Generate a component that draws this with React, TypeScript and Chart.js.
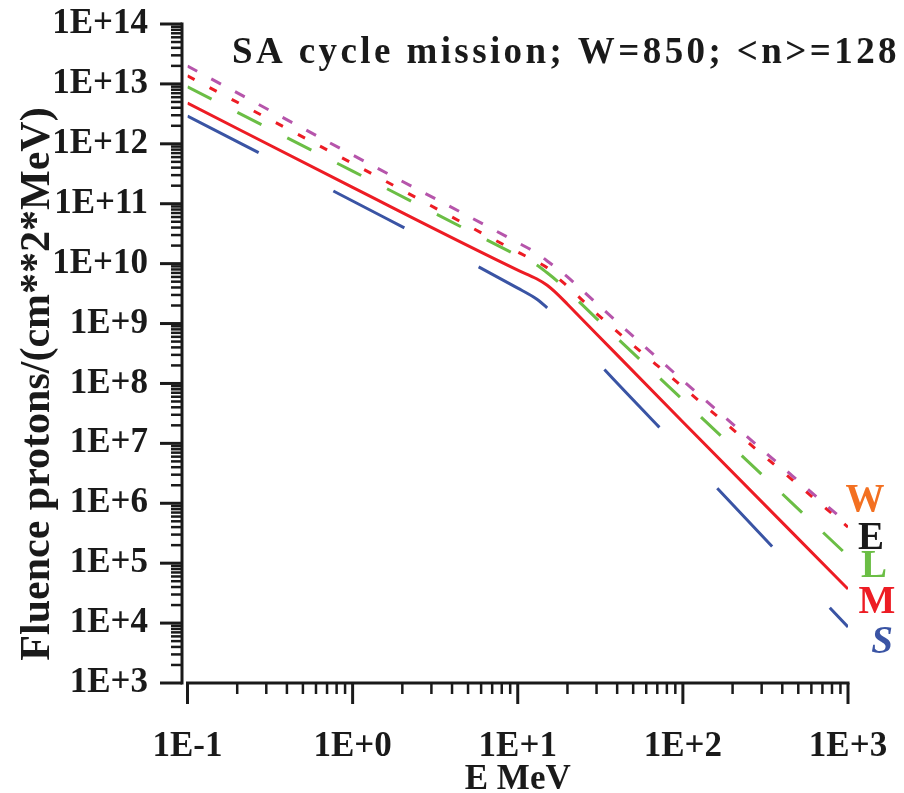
import { useEffect, useRef } from "react";
import { Chart, registerables } from "chart.js";

Chart.register(...registerables);

// ---- data ----
const energies = [0.1, 1, 10, 13, 15, 17.5, 20, 30, 100, 1000];
const fluenceW = [1.99e13, 6.5e11, 2.24e10, 1.5e10, 1.12e10, 8.1e9, 6.0e9, 2.17e9, 1.12e8, 4.5e5];
const fluenceE = [1.36e13, 4.7e11, 1.56e10, 1.08e10, 8.6e9, 5.75e9, 4.2e9, 1.47e9, 8.7e7, 4.0e5];
const fluenceL = [8.9e12, 3.5e11, 1.36e10, 9.5e9, 7.1e9, 5.0e9, 3.56e9, 1.21e9, 5.3e7, 1.32e5];
const fluenceM = [4.8e12, 1.87e11, 7.8e9, 5.6e9, 4.4e9, 3.05e9, 2.1e9, 6.7e8, 2.27e7, 3.7e4];
const fluenceS = [2.9e12, 1.11e11, 3.9e9, 2.57e9, 1.85e9, 1.24e9, 8.4e8, 2.37e8, 7.2e6, 8.6e3];

const seriesNames = ["W", "E", "L", "M", "S"];
const xTickLabels = ["1E-1", "1E+0", "1E+1", "1E+2", "1E+3"];
const yTickLabels = ["1E+3", "1E+4", "1E+5", "1E+6", "1E+7", "1E+8", "1E+9", "1E+10", "1E+11", "1E+12", "1E+13", "1E+14"];
const chartTitle = "SA cycle mission; W=850; <n>=128";
const xTitle = "E MeV";
const yTitle = "Fluence protons/(cm**2*MeV)";

const FONT = "'Liberation Serif', 'Times New Roman', serif";

const lineColors = ["#B655AB", "#ED1C24", "#6BBE45", "#ED1C24", "#3A54A4"];
const lineDashes = [[11, 16], [8, 17], [27, 29], [], [80, 84]];
const labelColors = ["#F37021", "#1A1A1A", "#6BBE45", "#ED1C24", "#3A54A4"];
const labelPos = [
  [865, 511],
  [871, 549],
  [874, 577],
  [877, 613],
  [882, 653],
];

function isDecade(v: number) {
  const l = Math.log10(v);
  return Math.abs(l - Math.round(l)) < 1e-6;
}

const decorPlugin = {
  id: "decor",
  afterDraw(chart: any) {
    const { ctx, chartArea } = chart;
    const xs = chart.scales.x;
    const ys = chart.scales.y;
    ctx.save();
    ctx.strokeStyle = "#1a1a1a";
    ctx.fillStyle = "#1a1a1a";
    ctx.lineCap = "butt";

    // y axis
    const axX = chartArea.left - 5.5;
    ctx.lineWidth = 3;
    ctx.beginPath();
    ctx.moveTo(axX, ys.getPixelForValue(1e14) - 1.5);
    ctx.lineTo(axX, ys.getPixelForValue(1e3) + 1.5);
    ctx.stroke();
    for (let d = 3; d <= 14; d++) {
      for (let m = 1; m <= 9; m++) {
        const v = m * Math.pow(10, d);
        if (v > 1e14 * 1.0001) continue;
        const py = ys.getPixelForValue(v);
        const len = m === 1 ? 22 : 11;
        ctx.lineWidth = m === 1 ? 3 : 2.5;
        ctx.beginPath();
        ctx.moveTo(axX - len, py);
        ctx.lineTo(axX, py);
        ctx.stroke();
      }
    }

    // x axis
    const axY = chartArea.bottom;
    ctx.lineWidth = 3;
    ctx.beginPath();
    ctx.moveTo(chartArea.left - 1.5, axY);
    ctx.lineTo(chartArea.right + 1.5, axY);
    ctx.stroke();
    for (let d = -1; d <= 3; d++) {
      for (let m = 1; m <= 9; m++) {
        const v = m * Math.pow(10, d);
        if (v > 1000 * 1.0001) continue;
        const px = xs.getPixelForValue(v);
        const len = m === 1 ? 21 : 11;
        ctx.lineWidth = m === 1 ? 3 : 2.5;
        ctx.beginPath();
        ctx.moveTo(px, axY);
        ctx.lineTo(px, axY + len);
        ctx.stroke();
      }
    }

    // chart title
    ctx.font = `bold 37px ${FONT}`;
    (ctx as any).letterSpacing = "3.4px";
    ctx.textAlign = "left";
    ctx.textBaseline = "alphabetic";
    ctx.fillText(chartTitle, 232, 63);
    (ctx as any).letterSpacing = "0px";

    // x title
    ctx.font = `bold 35px ${FONT}`;
    ctx.textAlign = "center";
    ctx.fillText(xTitle, (chartArea.left + chartArea.right) / 2, 789);

    // y title
    ctx.save();
    ctx.translate(49, 384);
    ctx.rotate(-Math.PI / 2);
    ctx.font = `bold 42px ${FONT}`;
    ctx.textAlign = "center";
    ctx.fillText(yTitle, 0, 0);
    ctx.restore();

    // series labels
    seriesNames.forEach((n, i) => {
      ctx.font = `${n === "S" ? "italic " : ""}bold 39px ${FONT}`;
      ctx.fillStyle = labelColors[i];
      ctx.textAlign = "center";
      ctx.fillText(n, labelPos[i][0], labelPos[i][1]);
    });
    ctx.restore();
  },
};

export default function App() {
  const ref = useRef<HTMLCanvasElement | null>(null);
  useEffect(() => {
    document.body.style.margin = "0";
    const canvas = ref.current;
    if (!canvas) return;
    const series = [fluenceW, fluenceE, fluenceL, fluenceM, fluenceS];
    const chart = new Chart(canvas, {
      type: "line",
      data: {
        datasets: series.map((vals, i) => ({
          label: seriesNames[i],
          data: energies.map((e, k) => ({ x: e, y: vals[k] })),
          borderColor: lineColors[i],
          borderWidth: 3,
          borderDash: lineDashes[i],
          pointRadius: 0,
          fill: false,
          cubicInterpolationMode: "monotone" as const,
          borderCapStyle: "butt" as const,
        })),
      },
      options: {
        responsive: false,
        animation: false,
        devicePixelRatio: 1,
        layout: { padding: { left: 0, right: 56, top: 24, bottom: 0 } },
        plugins: { legend: { display: false }, tooltip: { enabled: false }, title: { display: false } },
        scales: {
          x: {
            type: "logarithmic",
            position: "bottom",
            min: 0.1,
            max: 1000,
            grid: { display: false, drawTicks: false },
            border: { display: false },
            ticks: {
              autoSkip: false,
              maxRotation: 0,
              padding: 43,
              color: "#1a1a1a",
              font: { family: FONT, size: 35, weight: "bold" },
              callback: (v: any) => {
                const n = Number(v);
                if (!isDecade(n)) return "";
                return xTickLabels[Math.round(Math.log10(n)) + 1] ?? "";
              },
            },
            afterFit: (s: any) => {
              s.height = 110;
              s.paddingLeft = 0;
              s.paddingRight = 0;
              s.paddingTop = 0;
              s.paddingBottom = 0;
            },
          },
          y: {
            type: "logarithmic",
            position: "left",
            min: 1e3,
            max: 1e14,
            grid: { display: false, drawTicks: false },
            border: { display: false },
            ticks: {
              autoSkip: false,
              padding: 39.5,
              color: "#1a1a1a",
              font: { family: FONT, size: 35, weight: "bold" },
              callback: (v: any) => {
                const n = Number(v);
                if (!isDecade(n)) return "";
                return yTickLabels[Math.round(Math.log10(n)) - 3] ?? "";
              },
            },
            afterFit: (s: any) => {
              s.width = 187.5;
              s.paddingLeft = 0;
              s.paddingRight = 0;
              s.paddingTop = 0;
              s.paddingBottom = 0;
            },
          },
        },
      },
      plugins: [decorPlugin],
    });
    return () => chart.destroy();
  }, []);
  return <canvas ref={ref} width={904} height={793} style={{ display: "block" }} />;
}
